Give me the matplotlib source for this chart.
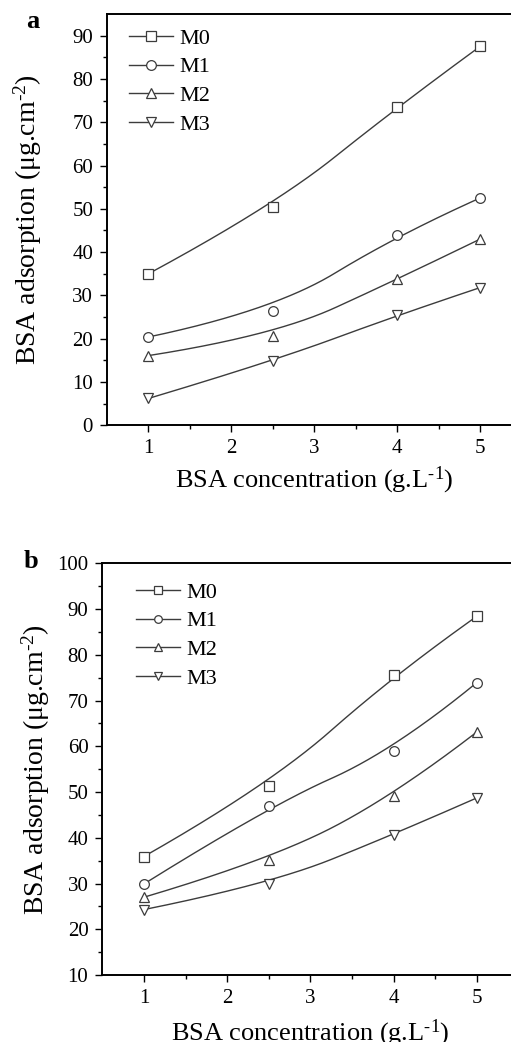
import numpy as np
import matplotlib
matplotlib.use("Agg")
import matplotlib.pyplot as plt

plt.rcParams["font.family"] = ["Liberation Serif", "DejaVu Serif"]
plt.rcParams["mathtext.fontset"] = "custom"
plt.rcParams["mathtext.rm"] = "Liberation Serif"
plt.rcParams["mathtext.it"] = "Liberation Serif:italic"
plt.rcParams["mathtext.bf"] = "Liberation Serif:bold"

conc = [1, 2.5, 4, 5]
series = ["M0", "M1", "M2", "M3"]
markers = ["s", "o", "^", "v"]

# panel a
a_m0 = [35.0, 50.5, 73.5, 87.5]
a_m1 = [20.4, 26.4, 43.9, 52.5]
a_m2 = [16.1, 20.6, 33.7, 43.0]
a_m3 = [6.2, 14.8, 25.4, 31.8]

# panel b
b_m0 = [35.9, 51.4, 75.5, 88.4]
b_m1 = [29.9, 46.9, 59.0, 73.9]
b_m2 = [27.0, 35.1, 49.1, 63.1]
b_m3 = [24.3, 29.8, 40.7, 48.7]

LINE = "#3c3c3c"


def bspline(x, y, deg=2, n=300):
    """Clamped B-spline using the data points as control points (Origin 'B-Spline')."""
    P = np.column_stack([x, y]).astype(float)
    m = len(P)
    inner = np.linspace(0, 1, m - deg + 1)[1:-1]
    knots = np.concatenate([np.zeros(deg + 1), inner, np.ones(deg + 1)])
    t = np.linspace(0, 1 - 1e-9, n)
    # Cox-de Boor
    N = np.array([((knots[i] <= t) & (t < knots[i + 1])).astype(float)
                  for i in range(len(knots) - 1)])
    for p in range(1, deg + 1):
        Nn = np.zeros((len(knots) - 1 - p, n))
        for i in range(len(knots) - 1 - p):
            d1 = knots[i + p] - knots[i]
            d2 = knots[i + p + 1] - knots[i + 1]
            a = (t - knots[i]) / d1 * N[i] if d1 > 0 else 0
            b = (knots[i + p + 1] - t) / d2 * N[i + 1] if d2 > 0 else 0
            Nn[i] = a + b
        N = Nn
    C = N.T @ P
    return C[:, 0], C[:, 1]


def panel(ax, data, ylim, yticks, msize, lmsize, leg_anchor):
    for name, mk, ys in zip(series, markers, data):
        xs, yc = bspline(conc, ys)
        ax.plot(xs, yc, color=LINE, lw=1.0)
        ax.plot(conc, ys, ls="none", marker=mk, ms=msize, mfc="white",
                mec=LINE, mew=0.9)
    handles = [plt.Line2D([], [], color=LINE, lw=1.0, marker=mk, ms=lmsize,
                          mfc="white", mec=LINE, mew=0.9) for mk in markers]
    ax.legend(handles, series, loc="upper left", bbox_to_anchor=leg_anchor,
              frameon=False, fontsize=16, handlelength=2.0, handletextpad=0.25,
              labelspacing=0.37, borderaxespad=0, borderpad=0)
    ax.set_xlim(0.5, 5.5)
    ax.set_ylim(*ylim)
    ax.set_xticks([1, 2, 3, 4, 5])
    ax.set_xticks([1.5, 2.5, 3.5, 4.5], minor=True)
    ax.set_yticks(yticks)
    ax.set_yticks(np.arange(ylim[0] + 5, ylim[1], 10), minor=True)
    ax.tick_params(which="both", direction="out", labelsize=15, width=1.0,
                   pad=5)
    ax.tick_params(which="major", length=5)
    ax.tick_params(which="minor", length=3)
    for s in ax.spines.values():
        s.set_linewidth(1.4)
    ax.set_xlabel(r"BSA concentration (g.L$^{\text{-1}}$)", fontsize=19)
    ax.set_ylabel(r"BSA adsorption (μg.cm$^{\text{-2}}$)", fontsize=20)


fig = plt.figure(figsize=(5.11, 10.42), dpi=100)
W, H = 511, 1042

ax1 = fig.add_axes([107 / W, 1 - 425.3 / H, 414.5 / W, 411.3 / H])
panel(ax1, [a_m0, a_m1, a_m2, a_m3], (0, 95), np.arange(0, 91, 10), 7, 7,
      ((129 - 107) / 414.5, (425.3 - 28) / 411.3))
ax1.yaxis.set_label_coords(-0.152, 0.5)
ax1.xaxis.set_label_coords(0.5, -0.095)

ax2 = fig.add_axes([102.3 / W, 1 - 975 / H, 416 / W, 411.7 / H])
panel(ax2, [b_m0, b_m1, b_m2, b_m3], (10, 100), np.arange(10, 101, 10), 7, 5.5,
      ((136 - 102.3) / 416, (975 - 582) / 411.7))
ax2.yaxis.set_label_coords(-0.121, 0.5)
ax2.xaxis.set_label_coords(0.5, -0.104)

fig.text(33 / W, 1 - 22 / H, "a", fontsize=19, fontweight="bold",
         ha="center", va="center")
fig.text(31 / W, 1 - 562 / H, "b", fontsize=19, fontweight="bold",
         ha="center", va="center")

fig.savefig("out.png", dpi=100)
